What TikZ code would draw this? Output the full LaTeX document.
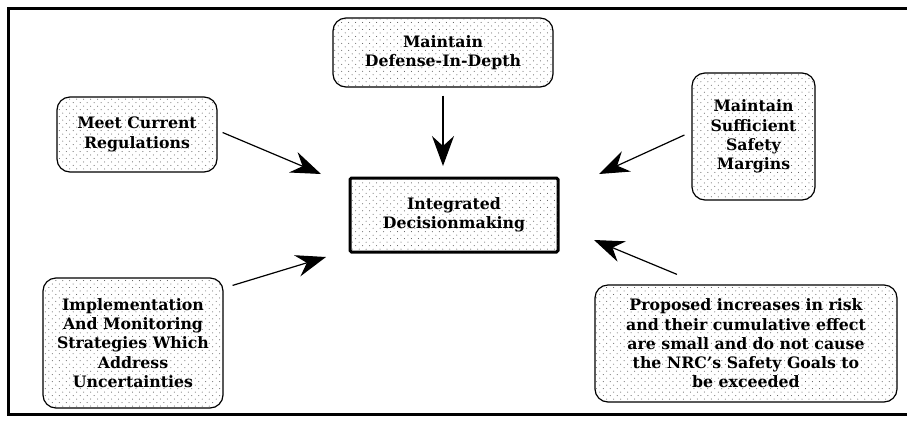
\documentclass[tikz,border=0pt]{standalone}
\usepackage{fontspec}
\setmainfont{DejaVu Serif}
\usetikzlibrary{arrows.meta,patterns.meta,calc}
\tikzdeclarepattern{
  name=sparsedots,
  type=uncolored,
  bottom left={(-1pt,-1pt)},
  top right={(7pt,7pt)},
  tile size={(7pt,7pt)},
  code={
    \fill (0pt,0pt) circle (0.5pt);
    \fill (3.5pt,3.5pt) circle (0.5pt);
  }
}
\tikzset{
  box/.style={draw, line width=1.2bp, rounded corners=13bp, fill=white,
    postaction={pattern=sparsedots, pattern color=black!70},
    align=center, inner sep=0pt,
    font=\fontsize{15.8}{19.3}\selectfont\bfseries},
  centerbox/.style={box, rounded corners=1.5bp, line width=3bp},
  flow/.style={line width=1.2bp, -{Stealth[length=30bp, width=22bp, inset=10bp]}},
  frame/.style={line width=3bp}
}
\begin{document}
\begin{tikzpicture}[x=1bp,y=-1bp]
\useasboundingbox (0,0) rectangle (907,420);
\draw[frame] (907,8) -- (8,8) -- (8,414) -- (907,414);

\node[centerbox, minimum width=208bp, minimum height=74bp] (integ) at (454,215) {Integrated\\Decisionmaking};
\node[box, minimum width=160bp, minimum height=75bp] (meet) at (137,134.5) {Meet Current\\Regulations};
\node[box, minimum width=220bp, minimum height=69bp] (defense) at (443,52.5) {Maintain\\Defense-In-Depth};
\node[box, minimum width=123bp, minimum height=127bp] (margins) at (753.5,136.5) {Maintain\\Sufficient\\Safety\\Margins};
\node[box, minimum width=180bp, minimum height=130bp] (impl) at (133,343) {Implementation\\And Monitoring\\Strategies Which\\Address\\Uncertainties};
\node[box, minimum width=302bp, minimum height=117bp] (prop) at (746,343.5) {Proposed increases in risk\\and their cumulative effect\\are small and do not cause\\the NRC’s Safety Goals to\\be exceeded};

\coordinate (tmeet) at (321,174);
\coordinate (tdef) at (443,166);
\coordinate (tmarg) at (599,174);
\coordinate (timpl) at (326,257);
\coordinate (tprop) at (594,240);

\draw[flow] ([shift={(5,-2)}]meet.east) -- (tmeet);
\draw[flow] ([shift={(0,8)}]defense.south) -- (tdef);
\draw[flow] ([shift={(-7,-1.5)}]margins.west) -- (tmarg);
\draw[flow] ([shift={(9,8)}]impl.north east) -- (timpl);
\draw[flow] ([shift={(-69,-10)}]prop.north) -- (tprop);
\end{tikzpicture}
\end{document}
